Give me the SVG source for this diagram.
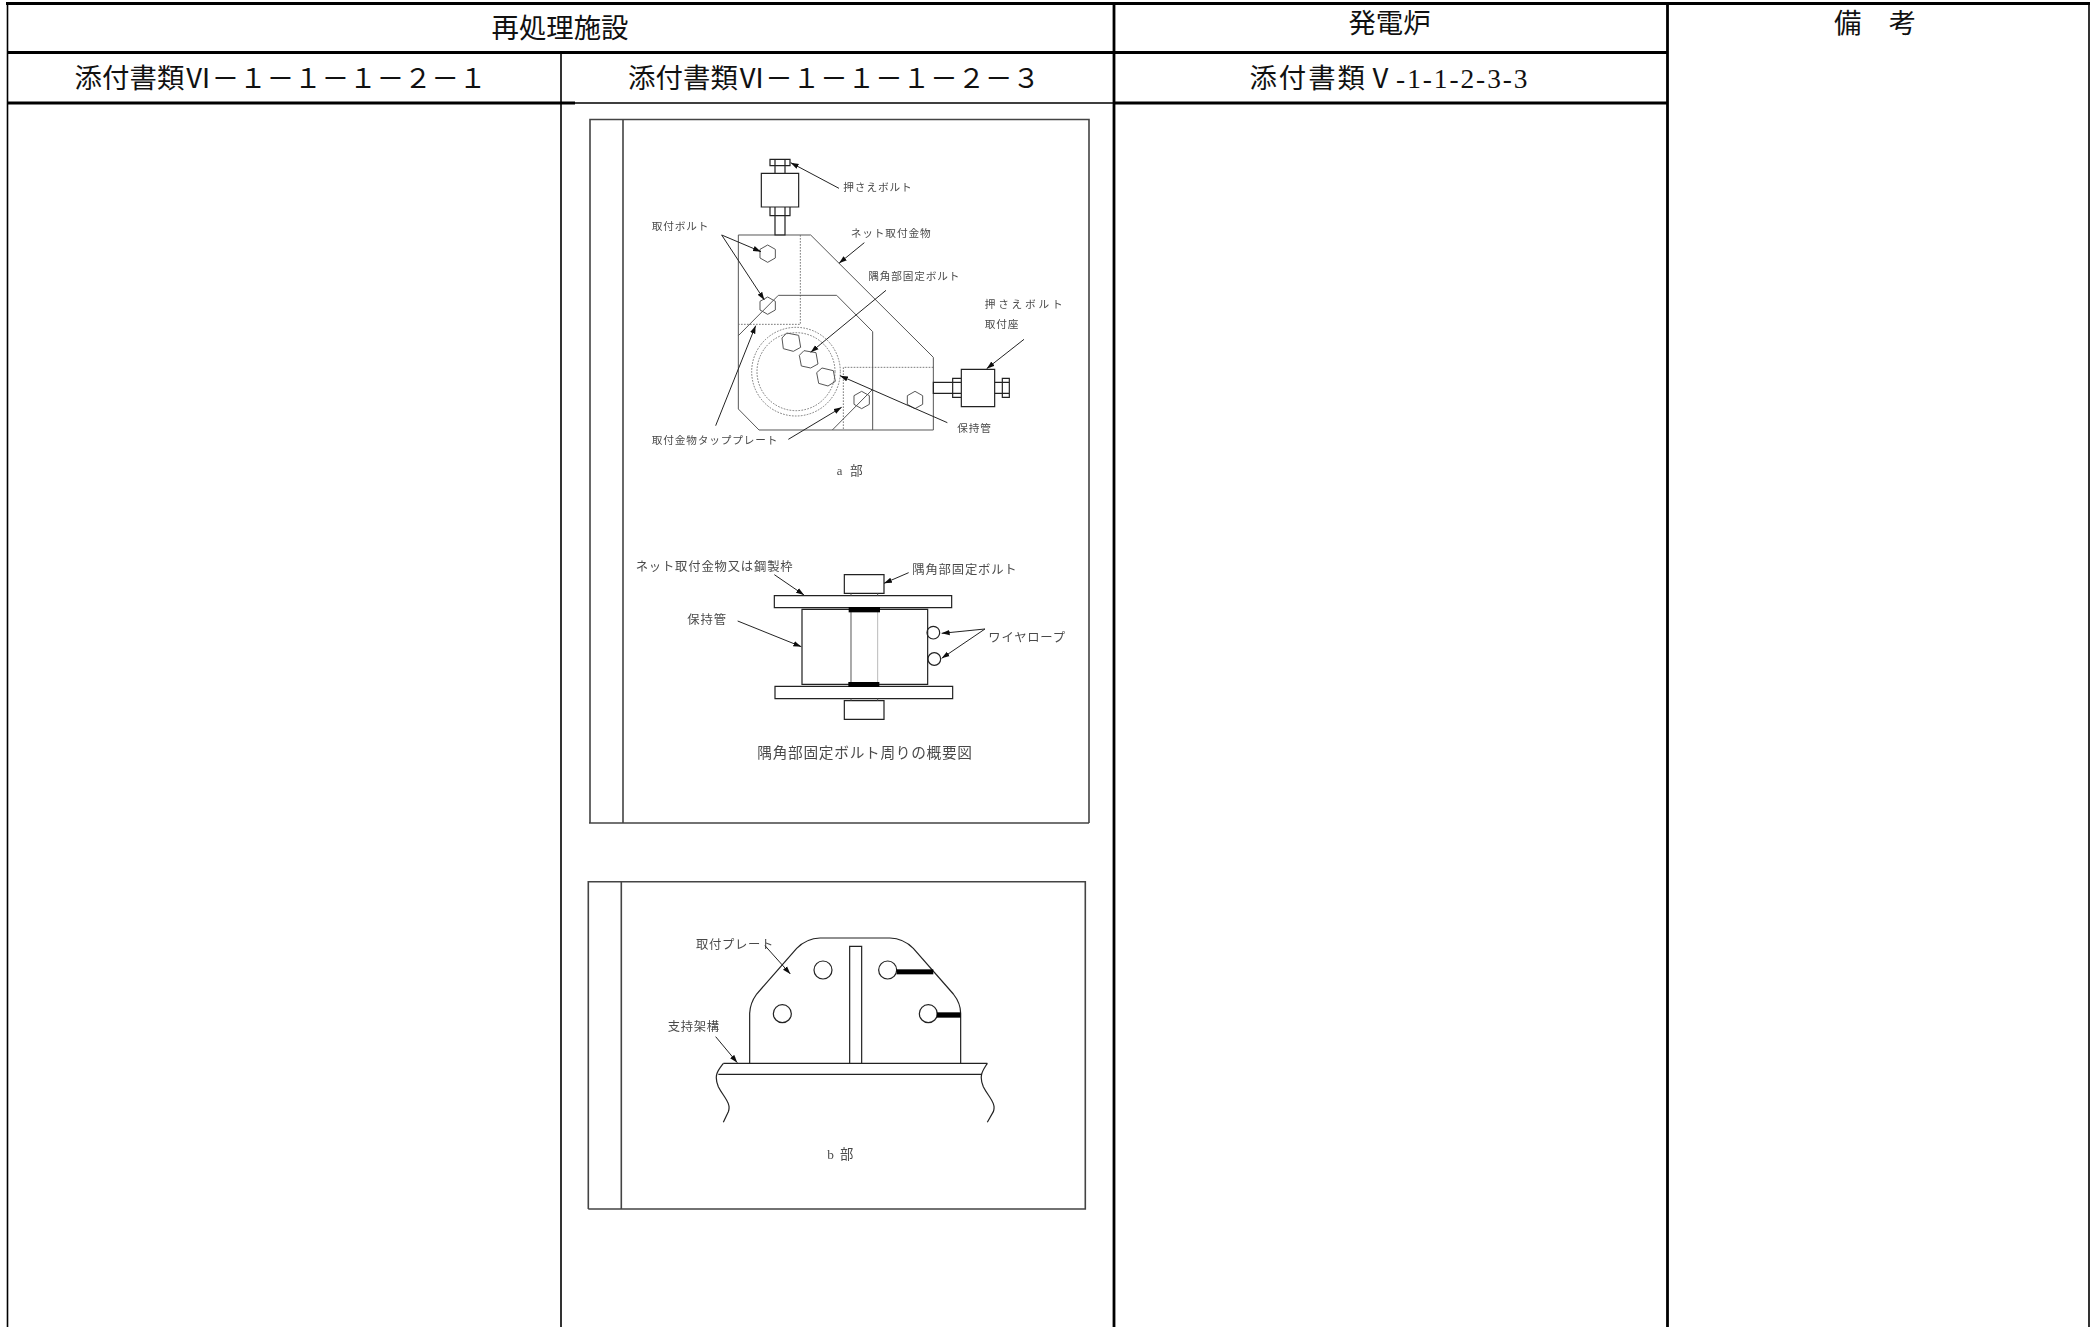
<svg xmlns="http://www.w3.org/2000/svg" width="2094" height="1327" viewBox="0 0 2094 1327">
<style>
.h{font-family:"Liberation Serif","Noto Sans CJK JP",serif;font-size:27.4px;fill:#111;text-anchor:middle;dominant-baseline:central}
.tk{stroke:#000;stroke-width:2.8;fill:none}
.tn{stroke:#000;stroke-width:1.6;fill:none}
.fr{stroke:#444;stroke-width:1.6;fill:none}
.l{font-family:"Noto Sans CJK JP","Liberation Sans",sans-serif;font-size:32px;fill:#4a4a4a;dominant-baseline:central}
.s{stroke:#555;stroke-width:3;fill:none}
.k{stroke:#222;stroke-width:3.6;fill:none}
.d{stroke:#666;stroke-width:2.6;fill:none;stroke-dasharray:5 4}
.a{stroke:#222;stroke-width:3;fill:none;marker-end:url(#ah)}
.b{fill:#000}
.soft{filter:url(#soft)}
</style>
<defs>
<marker id="ah" markerUnits="userSpaceOnUse" markerWidth="26" markerHeight="18" refX="24" refY="9" orient="auto"><path d="M0,1 L24,9 L0,17 Z" fill="#111"/></marker>
<filter id="soft" x="-5%" y="-5%" width="110%" height="110%"><feGaussianBlur stdDeviation="0.9"/></filter>
</defs>
<rect width="2094" height="1327" fill="#fff"/>
<g id="table">
<path class="tk" d="M6,3.5H2090M7,52.5H1667M7,103H575M1114,103H1667M1114,3.5V1327M1667.5,3.5V1327"/>
<path class="tn" d="M7.5,3.5V1327M561,52.5V1327M2089,3.5V1327M575,103H1114"/>
</g>
<g id="headers">
<text class="h" x="560" y="29">再処理施設</text>
<text class="h" x="1389.5" y="24">発電炉</text>
<text class="h" x="1875" y="24">備　考</text>
<text class="h" x="280.5" y="79" textLength="412">添付書類Ⅵ－１－１－１－２－１</text>
<text class="h" x="834" y="79" textLength="412">添付書類Ⅵ－１－１－１－２－３</text>
<text class="h" x="1388.5" y="79" textLength="278">添付書類Ⅴ-1-1-2-3-3</text>
</g>
<g id="frame-a">
<path class="fr" d="M590,823V119.5H1089V823M589,823H1089M623,119.5V823"/>
</g>
<g id="frame-b">
<path class="fr" d="M588.3,1209V881.7H1085.3V1209H588.3M621.3,881.7V1209"/>
</g>
<g id="part-a" class="soft" transform="translate(580,110) scale(0.33333)">
<path class="s" d="M475,375H692L1060,742V960H537L475,897Z"/>
<path class="d" d="M661,375V643H475M1060,772H790V960"/>
<path class="s" d="M475,677L595,556H770L878,665V960M757,960L878,838"/>
<circle class="d" cx="648" cy="785" r="133"/>
<circle class="d" cx="648" cy="785" r="117"/>
<path class="s" d="M563,405L586,418V444L563,457L540,444V418ZM563,561L586,574V600L563,613L540,600V574ZM845,844L868,857V883L845,896L822,883V857ZM1005,844L1028,857V883L1005,896L982,883V857Z"/>
<path class="s" d="M620,669L656,676L662,712L640,724L610,716L606,684ZM672,722L708,728L714,762L692,774L664,768L658,736ZM726,774L760,782L766,814L744,828L716,820L710,788Z"/>
<path class="k" d="M570,148H630V167H570ZM585,148V190M615,148V190M544,190H656V291H544ZM570,291H630V317H570ZM585,291V375H615V291"/>
<path class="k" d="M1060,817H1118V850H1060ZM1118,805H1144V862H1118ZM1118,817H1144M1118,850H1144M1144,778H1244V890H1144ZM1244,817H1267V850H1244ZM1267,805H1288V862H1267ZM1267,817H1288M1267,850H1288"/>
<text class="l" x="790" y="231" textLength="205">押さえボルト</text>
<text class="l" x="215" y="347" textLength="170">取付ボルト</text>
<text class="l" x="812" y="369" textLength="240">ネット取付金物</text>
<text class="l" x="865" y="498" textLength="273">隅角部固定ボルト</text>
<text class="l" x="1214" y="582" textLength="234">押さえボルト</text>
<text class="l" x="1214" y="642" textLength="101">取付座</text>
<text class="l" x="1132" y="952" textLength="101">保持管</text>
<text class="l" x="215" y="990" textLength="377">取付金物タッププレート</text>
<text class="l" x="770" y="1082" style="font-size:38px;font-family:'Liberation Serif','Noto Sans CJK JP',serif" textLength="78">a 部</text>
</g>
<g id="part-section" class="soft" transform="translate(580,510) scale(0.33333)">
<path class="k" d="M793,194H912V250H793ZM583,257H1115V293H583ZM585,529H1118V566H585ZM793,572H912V628H793ZM666,298H1043V523H666Z"/>
<path class="s" d="M813,250V257M893,250V257M813,566V572M893,566V572M813,298V523"/>
<path d="M893,298V523" stroke="#bbb" stroke-width="3" fill="none"/>
<rect class="b" x="806" y="291" width="94" height="16"/>
<rect class="b" x="805" y="516" width="93" height="15"/>
<circle class="k" cx="1060" cy="368" r="19"/>
<circle class="k" cx="1063" cy="447" r="19"/>
<text class="l" x="167" y="167" textLength="471" style="font-size:37px">ネット取付金物又は鋼製枠</text>
<text class="l" x="997" y="178" textLength="313" style="font-size:37px">隅角部固定ボルト</text>
<text class="l" x="322" y="328" textLength="116" style="font-size:37px">保持管</text>
<text class="l" x="1225" y="380" textLength="230" style="font-size:37px">ワイヤロープ</text>
<text class="l" x="532" y="724" textLength="644" style="font-size:44px">隅角部固定ボルト周りの概要図</text>
</g>
<g id="part-b" class="soft" transform="translate(580,870) scale(0.33333)">
<path class="k" d="M509,580V430Q510,400 530,372L650,235Q680,205 720,204H930Q970,205 1000,235L1120,372Q1142,400 1142,430V580"/>
<path class="k" d="M430,580H1222M415,613H1205M809,580V229H845V580"/>
<path class="k" d="M430,580C415,600 400,615 415,650C430,680 455,700 445,725L430,757M1222,580C1210,600 1195,615 1210,650C1225,680 1250,700 1240,725L1222,757"/>
<circle class="k" cx="729" cy="300" r="27"/>
<circle class="k" cx="607" cy="431" r="27"/>
<circle class="k" cx="923" cy="300" r="27"/>
<circle class="k" cx="1045" cy="431" r="27"/>
<rect class="b" x="950" y="298" width="110" height="15"/>
<rect class="b" x="1070" y="427" width="72" height="16"/>
<text class="l" x="348" y="222" textLength="232" style="font-size:37px">取付プレート</text>
<text class="l" x="263" y="467" textLength="154" style="font-size:37px">支持架構</text>
<text class="l" x="742" y="853" style="font-size:40px;font-family:'Liberation Serif','Noto Sans CJK JP',serif" textLength="78">b 部</text>
</g>
<g id="connectors">
<g class="soft" transform="translate(580,110) scale(0.33333)">
<path class="a" d="M777,235L632,158"/>
<path class="a" d="M425,375L543,425"/>
<path class="a" d="M425,375L553,570"/>
<path class="a" d="M853,398L777,460"/>
<path class="a" d="M918,541L692,727"/>
<path class="a" d="M1332,688L1220,776"/>
<path class="a" d="M1102,938L780,797"/>
<path class="a" d="M407,947L527,647"/>
<path class="a" d="M625,988L785,892"/>
</g>
<g class="soft" transform="translate(580,510) scale(0.33333)">
<path class="a" d="M583,194L672,255"/>
<path class="a" d="M986,188L912,220"/>
<path class="a" d="M473,333L664,410"/>
<path class="a" d="M1215,357L1085,370"/>
<path class="a" d="M1215,357L1085,445"/>
</g>
<g class="soft" transform="translate(580,870) scale(0.33333)">
<path class="a" d="M555,227L631,312"/>
<path class="a" d="M407,500L472,578"/>
</g>
</g>
</svg>
